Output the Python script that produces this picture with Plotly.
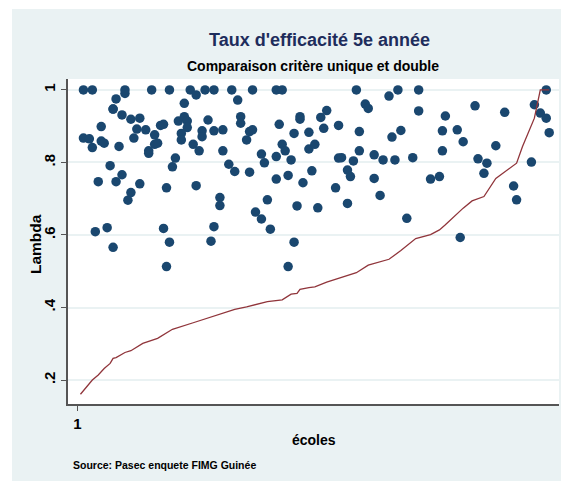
import plotly.graph_objects as go

# ---- data ----
ecole_double = [3, 6, 17, 17, 26, 32, 39, 44, 47, 53, 60, 68, 70, 14, 13, 13, 16, 19, 22, 21,
                24, 20, 9, 3, 5, 6, 9, 10, 15, 12, 16, 8, 14, 22, 19, 18, 7, 11, 13, 27,
                27, 28, 29, 30, 25, 25, 34, 33, 31, 30, 32, 31, 35, 37, 37, 38, 38, 36, 36, 41,
                40, 42, 41, 43, 43, 45, 47, 50, 50, 52, 54, 49, 49, 47, 46, 55, 56, 56, 58, 59,
                59, 60, 63, 64, 65, 61, 63, 66, 68, 69, 68, 72, 70, 71, 73, 74, 76, 76, 75, 77,
                74, 72, 79, 79, 81, 80, 82, 83, 84, 85, 88, 89, 89, 90, 92, 93, 94, 96, 96, 92,
                95, 98, 99, 101, 101, 103, 104, 106, 109, 107, 108, 110, 112, 114, 116, 116, 120, 123, 124, 124,
                125, 129, 131, 130, 135, 136, 139, 138, 142, 145, 148, 149, 154, 155, 157, 159, 159, 160]
lambda_double = [1.0, 1.0, 0.99, 1.0, 1.0, 1.0, 1.0, 1.0, 1.0, 1.0, 1.0, 1.0, 1.0, 0.975, 0.947, 0.947, 0.931, 0.919, 0.922, 0.892,
                 0.89, 0.867, 0.899, 0.867, 0.865, 0.841, 0.859, 0.853, 0.844, 0.791, 0.766, 0.747, 0.747, 0.741, 0.717, 0.696, 0.609, 0.62, 0.566, 0.876,
                 0.85, 0.853, 0.902, 0.905, 0.825, 0.832, 0.812, 0.788, 0.73, 0.618, 0.58, 0.513, 0.914, 0.963, 0.926, 0.914, 0.896, 0.88, 0.862, 0.986,
                 0.85, 0.832, 0.736, 0.887, 0.871, 0.917, 0.887, 0.89, 0.832, 0.795, 0.775, 0.703, 0.681, 0.623, 0.583, 0.972, 0.926, 0.908, 0.862, 0.773,
                 0.885, 0.89, 0.823, 0.799, 0.697, 0.663, 0.644, 0.616, 0.816, 0.905, 0.754, 0.764, 0.85, 0.832, 0.807, 0.88, 0.926, 0.919, 0.68, 0.744,
                 0.58, 0.513, 0.883, 0.837, 0.85, 0.777, 0.675, 0.924, 0.894, 0.943, 0.73, 0.902, 0.812, 0.813, 0.779, 0.761, 0.804, 0.832, 0.885, 0.687,
                 1.0, 0.961, 0.949, 0.821, 0.756, 0.709, 0.807, 0.983, 1.0, 0.87, 0.807, 0.888, 0.646, 0.813, 1.0, 0.942, 0.754, 0.761, 0.887, 0.832,
                 0.928, 0.89, 0.857, 0.593, 0.956, 0.81, 0.798, 0.77, 0.846, 0.938, 0.735, 0.697, 0.801, 0.959, 0.936, 1.0, 0.922, 0.882]

ecole_unique = [2, 6, 8, 10, 12, 13, 14, 17, 19, 23, 28, 33, 40, 46, 54, 58, 65, 70, 73, 75,
                76, 79, 81, 85, 90, 95, 99, 106, 110, 113, 115, 120, 123, 125, 131, 134, 138, 142, 149, 151,
                155, 157, 160]
lambda_unique = [0.161, 0.200, 0.214, 0.232, 0.246, 0.260, 0.262, 0.276, 0.281, 0.301, 0.315, 0.340, 0.358, 0.373, 0.395, 0.402, 0.416, 0.421, 0.437, 0.439,
                 0.450, 0.455, 0.457, 0.470, 0.483, 0.496, 0.517, 0.533, 0.557, 0.577, 0.590, 0.601, 0.614, 0.628, 0.674, 0.694, 0.706, 0.756, 0.798, 0.844,
                 0.922, 1.0, 1.0]

y_ticks = [0.2, 0.4, 0.6, 0.8, 1.0]
y_tick_labels = [".2", ".4", ".6", ".8", "1"]
x_ticks = [1]
x_tick_labels = ["1"]

BG = "#EAF2F3"
FONT = "Liberation Sans, Arial, sans-serif"

fig = go.Figure()
fig.add_trace(go.Scatter(x=ecole_double, y=lambda_double, mode="markers",
                         marker=dict(color="#1A476F", size=9.5, line=dict(width=0)),
                         showlegend=False, hoverinfo="skip", cliponaxis=False))
fig.add_trace(go.Scatter(x=ecole_unique, y=lambda_unique, mode="lines",
                         line=dict(color="#90353B", width=1.3),
                         showlegend=False, hoverinfo="skip"))

L, R, T, B = 68, 2, 79, 77
PW = 561 - L - R
PH = 481 - T - B

def px(xp):
    return (xp - L) / PW

def py(yp):
    return (481 - B - yp) / PH

fig.update_layout(
    template="none",
    width=561, height=481,
    margin=dict(l=L, r=R, t=T, b=B, pad=0),
    paper_bgcolor=BG, plot_bgcolor="white",
    font=dict(family=FONT, color="black"),
    xaxis=dict(range=[-2.2, 163.3], tickvals=x_ticks, ticktext=x_tick_labels, automargin=False,
               showgrid=False, zeroline=False, showline=True, linecolor="#555555", linewidth=2,
               ticks="outside", ticklen=5, tickcolor="#555555", tickwidth=1.2,
               tickfont=dict(size=15, color="black", family=FONT, weight="bold")),
    yaxis=dict(range=[0.134, 1.030], tickvals=y_ticks, ticktext=y_tick_labels, automargin=False,
               showgrid=True, gridcolor=BG, gridwidth=1.5, zeroline=False,
               showline=True, linecolor="#555555", linewidth=2,
               ticks="outside", ticklen=5, tickcolor="#555555", tickwidth=1.2,
               tickangle=-90, tickfont=dict(size=15, color="black", family=FONT, weight="bold")),
    shapes=[
        dict(type="rect", xref="paper", yref="paper", x0=px(-5), x1=px(12), y0=py(-5), y1=py(490),
             fillcolor="white", line=dict(width=0), layer="below"),
        dict(type="rect", xref="paper", yref="paper", x0=px(-5), x1=px(570), y0=py(-5), y1=py(9),
             fillcolor="white", line=dict(width=0), layer="below"),
    ],
    annotations=[
        dict(text="Taux d'efficacité 5e année", xref="paper", yref="paper",
             x=px(319), y=py(40), xanchor="center", yanchor="middle", showarrow=False,
             font=dict(size=18, color="#1E2D5C", family=FONT, weight="bold")),
        dict(text="Comparaison critère unique et double", xref="paper", yref="paper",
             x=px(312.5), y=py(66.5), xanchor="center", yanchor="middle", showarrow=False,
             font=dict(size=14, color="black", family=FONT, weight="bold")),
        dict(text="Lambda", xref="paper", yref="paper", textangle=-90,
             x=px(35), y=py(244), xanchor="center", yanchor="middle", showarrow=False,
             font=dict(size=15.5, color="black", family=FONT, weight="bold")),
        dict(text="écoles", xref="paper", yref="paper",
             x=px(313.5), y=py(440), xanchor="center", yanchor="middle", showarrow=False,
             font=dict(size=14, color="black", family=FONT, weight="bold")),
        dict(text="Source: Pasec enquete FIMG Guinée", xref="paper", yref="paper",
             x=px(71), y=py(465), xanchor="left", yanchor="middle", showarrow=False,
             font=dict(size=10.5, color="black", family=FONT, weight="bold")),
    ],
)

fig.write_html("out.html", config={"displayModeBar": False},
               post_script="document.body.style.margin='0';document.body.style.overflow='hidden';")
